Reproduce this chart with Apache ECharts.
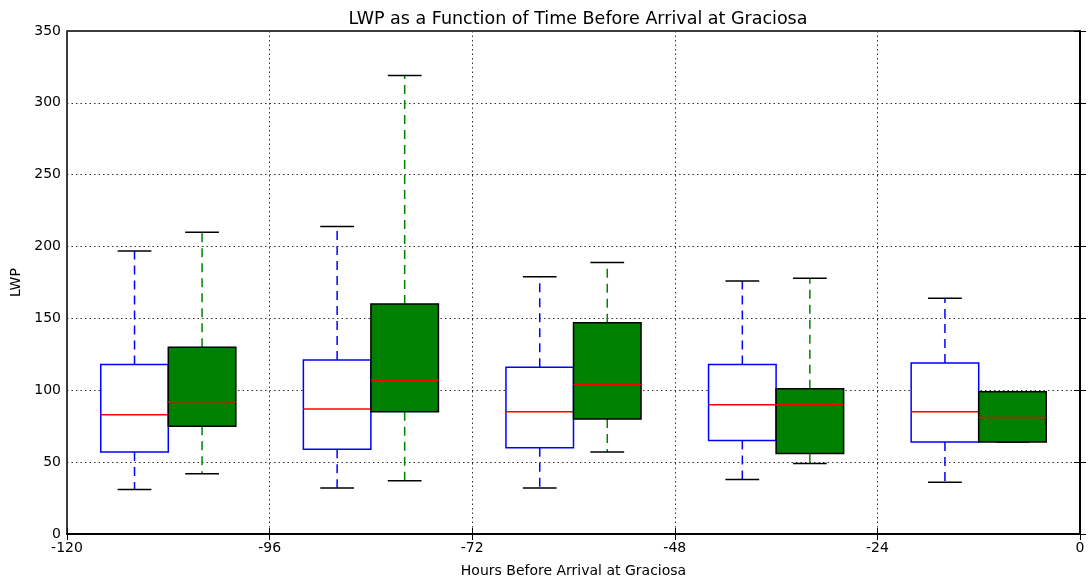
<!DOCTYPE html>
<html>
<head>
<meta charset="utf-8">
<script src="https://cdn.jsdelivr.net/npm/echarts@6/dist/echarts.min.js"></script>
<style>
  html, body { margin: 0; padding: 0; background: #fff; }
  #main { width: 1088px; height: 583px; }
</style>
</head>
<body>
<div id="main"></div>
<script>
// box centres on the hours axis
var bluePos  = [-112, -88, -64, -40, -16];
var greenPos = [-104, -80, -56, -32, -8];
// [min, Q1, median, Q3, max]
var blueStats = [
  [31, 57, 83, 118, 197],
  [32, 59, 87, 121, 214],
  [32, 60, 85, 116, 179],
  [38, 65, 90, 118, 176],
  [36, 64, 85, 119, 164]
];
var greenStats = [
  [42, 75, 92, 130, 210],
  [37, 85, 107, 160, 319],
  [57, 80, 104, 147, 189],
  [49, 56, 90, 101, 178],
  [64, 64, 81, 99, 99]
];
var xTicks = [-120, -96, -72, -48, -24, 0];
var yTicks = [0, 50, 100, 150, 200, 250, 300, 350];

var BOX_W = 8;   // in hours
var CAP_W = 4;

function makeData(pos, stats) {
  var out = [];
  for (var i = 0; i < pos.length; i++) {
    out.push([pos[i]].concat(stats[i]));
  }
  return out;
}

function boxRenderer(boxFill, boxEdge, whiskerColor) {
  return function (params, api) {
    var x = api.value(0);
    var lo = api.coord([x, api.value(1)]);
    var q1 = api.coord([x, api.value(2)]);
    var md = api.coord([x, api.value(3)]);
    var q3 = api.coord([x, api.value(4)]);
    var hi = api.coord([x, api.value(5)]);
    var bw = api.size([BOX_W, 0])[0];
    var cw = api.size([CAP_W, 0])[0];
    var cx = lo[0];
    var dash = { stroke: whiskerColor, lineWidth: 1.5, lineDash: [9, 6] };
    var cap = { stroke: '#000', lineWidth: 1.5 };
    return {
      type: 'group',
      children: [
        { type: 'line', shape: { x1: cx, y1: q3[1], x2: cx, y2: hi[1] }, style: dash },
        { type: 'line', shape: { x1: cx, y1: q1[1], x2: cx, y2: lo[1] }, style: dash },
        { type: 'line', shape: { x1: cx - cw / 2, y1: hi[1], x2: cx + cw / 2, y2: hi[1] }, style: cap },
        { type: 'line', shape: { x1: cx - cw / 2, y1: lo[1], x2: cx + cw / 2, y2: lo[1] }, style: cap },
        { type: 'rect', shape: { x: cx - bw / 2, y: q3[1], width: bw, height: q1[1] - q3[1] },
          style: { fill: boxFill, stroke: boxEdge, lineWidth: 1.5 } },
        { type: 'line', shape: { x1: cx - bw / 2, y1: md[1], x2: cx + bw / 2, y2: md[1] },
          style: { stroke: '#ff0000', lineWidth: 1.5 } }
      ]
    };
  };
}

var chart = echarts.init(document.getElementById('main'), null, { renderer: 'canvas' });

var font = 'DejaVu Sans';
var option = {
  animation: false,
  backgroundColor: '#fff',
  textStyle: { fontFamily: font },
  title: {
    text: 'LWP as a Function of Time Before Arrival at Graciosa',
    left: 573, top: 5, textAlign: 'center',
    textStyle: { fontFamily: font, fontSize: 17.5, fontWeight: 'normal', color: '#000' }
  },
  grid: {
    left: 67, right: 8, top: 31, bottom: 46,
    show: true, borderColor: '#000', borderWidth: 1.5, backgroundColor: 'transparent'
  },
  xAxis: [{
    type: 'value', min: -120, max: 0, interval: 24,
    name: 'Hours Before Arrival at Graciosa', nameLocation: 'middle', nameGap: 30,
    nameTextStyle: { fontFamily: font, fontSize: 14, color: '#000' },
    axisLine: { show: true, lineStyle: { color: '#000', width: 1.5 } },
    axisTick: { show: true, inside: true, length: 6, lineStyle: { color: '#000' } },
    axisLabel: { color: '#000', fontSize: 14, fontFamily: font, margin: 7,
      formatter: function (v) { return xTicks.indexOf(v) >= 0 ? String(v) : ''; } },
    splitLine: { show: true, lineStyle: { color: '#333', type: [1.5, 3], width: 1 } }
  }, {
    type: 'value', position: 'top', min: -120, max: 0, interval: 24,
    axisLine: { show: true, lineStyle: { color: '#000', width: 1.5 } },
    axisTick: { show: true, inside: true, length: 6, lineStyle: { color: '#000' } },
    axisLabel: { show: false }, splitLine: { show: false }
  }],
  yAxis: [{
    type: 'value', min: 0, max: 350, interval: 50,
    name: 'LWP', nameLocation: 'middle', nameGap: 41, nameRotate: 90,
    nameTextStyle: { fontFamily: font, fontSize: 14, color: '#000' },
    axisLine: { show: true, lineStyle: { color: '#000', width: 1.5 } },
    axisTick: { show: true, inside: true, length: 6, lineStyle: { color: '#000' } },
    axisLabel: { color: '#000', fontSize: 14, fontFamily: font, margin: 6,
      formatter: function (v) { return yTicks.indexOf(v) >= 0 ? String(v) : ''; } },
    splitLine: { show: true, lineStyle: { color: '#333', type: [1.5, 3], width: 1 } }
  }, {
    type: 'value', position: 'right', min: 0, max: 350, interval: 50,
    axisLine: { show: true, lineStyle: { color: '#000', width: 1.5 } },
    axisTick: { show: true, inside: true, length: 6, lineStyle: { color: '#000' } },
    axisLabel: { show: false }, splitLine: { show: false }
  }],
  series: [{
    name: 'blue', type: 'custom', xAxisIndex: 0, yAxisIndex: 0,
    renderItem: boxRenderer('#ffffff', '#0000ff', '#0000ff'),
    encode: { x: 0, y: [1, 2, 3, 4, 5] },
    data: makeData(bluePos, blueStats), z: 3
  }, {
    name: 'green', type: 'custom', xAxisIndex: 0, yAxisIndex: 0,
    renderItem: boxRenderer('#008000', '#000000', '#008000'),
    encode: { x: 0, y: [1, 2, 3, 4, 5] },
    data: makeData(greenPos, greenStats), z: 3
  }]
};
chart.setOption(option);
</script>
</body>
</html>
